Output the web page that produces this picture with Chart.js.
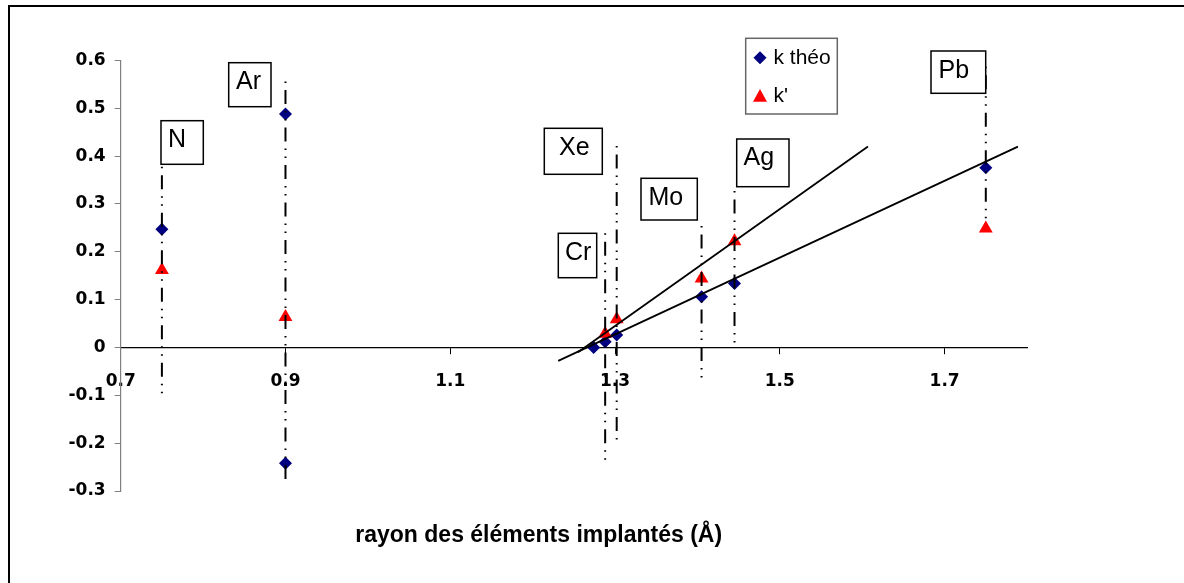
<!DOCTYPE html>
<html><head><meta charset="utf-8">
<script src="https://cdn.jsdelivr.net/npm/chart.js@4/dist/chart.umd.min.js"></script>
<style>html,body{margin:0;padding:0;background:#fff}#wrap{width:1184px;height:583px;position:relative}</style>
</head><body><div id="wrap"><canvas id="c"></canvas></div>
<script>
// ---- data ----
const xTicks = [0.7, 0.9, 1.1, 1.3, 1.5, 1.7];
const yTicks = [-0.3, -0.2, -0.1, 0, 0.1, 0.2, 0.3, 0.4, 0.5, 0.6];
const seriesNames = ['k théo', "k'"];
const kTheoX = [0.75, 0.9, 0.9, 1.274, 1.288, 1.302, 1.405, 1.445, 1.75];
const kTheoY = [0.247, 0.488, -0.242, 0.0, 0.012, 0.026, 0.106, 0.134, 0.376];
const kPrimeX = [0.75, 0.9, 1.288, 1.302, 1.405, 1.445, 1.75];
const kPrimeY = [0.162, 0.064, 0.029, 0.059, 0.144, 0.222, 0.249];
const trendTheoX = [1.231, 1.789];
const trendTheoY = [-0.028, 0.420];
const trendPrimeX = [1.255, 1.607];
const trendPrimeY = [-0.010, 0.420];
const elements = ['N', 'Ar', 'Cr', 'Xe', 'Mo', 'Ag', 'Pb'];
const dropX = [0.75, 0.9, 1.288, 1.302, 1.405, 1.445, 1.75];
const dropTop = [0.378, 0.556, 0.239, 0.421, 0.254, 0.327, 0.587];
const dropBottom = [-0.101, -0.282, -0.242, -0.197, -0.064, 0.0, 0.267];
const axisTitle = 'rayon des éléments implantés (Å)';

// ---- layout of text boxes (pixels): box x0,y0,x1,y1, text left, baseline ----
const labelBoxes = {
  N:  [161, 120.7, 203.3, 164.3, 168, 146.5],
  Ar: [228.7, 62.7, 271, 106.7, 236, 89.3],
  Cr: [558.3, 233.3, 596.7, 277.7, 565, 260],
  Xe: [544.3, 128.3, 602.3, 174.3, 559, 155],
  Mo: [641, 178.3, 697.3, 220, 648.5, 205],
  Ag: [736.7, 139, 789, 186.7, 743.5, 165],
  Pb: [931, 51, 985.7, 93.3, 938.5, 78.3]
};

const pts = (xs, ys) => xs.map((x, i) => ({x, y: ys[i]}));

const datasets = [];
elements.forEach((el, i) => {
  datasets.push({
    label: 'drop ' + el, type: 'scatter', showLine: true,
    data: [{x: dropX[i], y: dropTop[i]}, {x: dropX[i], y: dropBottom[i]}],
    borderColor: '#000', borderWidth: 2, borderDash: [14, 7, 1.5, 6.5, 1.5, 7], borderDashOffset: 29,
    borderCapStyle: 'butt', pointRadius: 0, order: 0, clip: false
  });
});
datasets.push({label: 'trend théo', showLine: true, data: pts(trendTheoX, trendTheoY),
  borderColor: '#000', borderWidth: 1.8, pointRadius: 0, order: 1});
datasets.push({label: 'trend prime', showLine: true, data: pts(trendPrimeX, trendPrimeY),
  borderColor: '#000', borderWidth: 1.8, pointRadius: 0, order: 1});
datasets.push({label: seriesNames[1], data: pts(kPrimeX, kPrimeY), pointStyle: 'triangle',
  pointRadius: 8, backgroundColor: '#ff0000', borderColor: '#ff0000', borderWidth: 0, order: 2});
datasets.push({label: seriesNames[0], data: pts(kTheoX, kTheoY), pointStyle: 'rectRot',
  pointRadius: 6.5, backgroundColor: '#000080', borderColor: '#000080', borderWidth: 0, order: 3});

const decor = {
  id: 'decor',
  beforeDraw(chart) {
    const ctx = chart.ctx;
    ctx.save(); ctx.fillStyle = '#fff'; ctx.fillRect(0, 0, chart.width, chart.height); ctx.restore();
  },
  afterDatasetsDraw(chart) {
    const ctx = chart.ctx;
    ctx.save();
    // element label boxes
    ctx.font = '25px "Liberation Sans", Arial, sans-serif';
    ctx.textAlign = 'left'; ctx.textBaseline = 'alphabetic';
    elements.forEach(el => {
      const b = labelBoxes[el];
      ctx.fillStyle = '#fff';
      ctx.fillRect(b[0], b[1], b[2] - b[0], b[3] - b[1]);
      ctx.strokeStyle = '#000'; ctx.lineWidth = 1.5;
      ctx.strokeRect(b[0], b[1], b[2] - b[0], b[3] - b[1]);
      ctx.fillStyle = '#000';
      ctx.fillText(el, b[4], b[5]);
    });
    // legend
    ctx.fillStyle = '#fff';
    ctx.fillRect(745.7, 38.3, 91.6, 75.7);
    ctx.strokeStyle = '#666'; ctx.lineWidth = 1.5;
    ctx.strokeRect(745.7, 38.3, 91.6, 75.7);
    ctx.fillStyle = '#000080';
    ctx.beginPath(); ctx.moveTo(760, 51.2); ctx.lineTo(766.5, 57.7); ctx.lineTo(760, 64.2); ctx.lineTo(753.5, 57.7); ctx.closePath(); ctx.fill();
    ctx.fillStyle = '#ff0000';
    ctx.beginPath(); ctx.moveTo(760, 89); ctx.lineTo(767, 101.7); ctx.lineTo(753, 101.7); ctx.closePath(); ctx.fill();
    ctx.fillStyle = '#000';
    ctx.font = '21px "Liberation Sans", Arial, sans-serif';
    ctx.fillText(seriesNames[0], 773.5, 64.3);
    ctx.fillText(seriesNames[1], 773.5, 101.7);
    // axis title
    ctx.font = 'bold 23px "Liberation Sans", Arial, sans-serif';
    ctx.textAlign = 'center';
    ctx.fillText(axisTitle, 538.7, 541.5);
    // outer frame (left and top visible)
    ctx.strokeStyle = '#000'; ctx.lineWidth = 2;
    ctx.beginPath(); ctx.moveTo(9, 590); ctx.lineTo(9, 6); ctx.lineTo(1190, 6); ctx.stroke();
    ctx.restore();
  }
};

const tickFont = {family: '"DejaVu Sans", Verdana, sans-serif', size: 17, weight: 'bold'};

new Chart(document.getElementById('c'), {
  type: 'scatter',
  data: {datasets},
  options: {
    responsive: true, maintainAspectRatio: false, animation: false,
    layout: {padding: {left: 0, top: 60.5, right: 157, bottom: 92}},
    plugins: {legend: {display: false}, tooltip: {enabled: false}, title: {display: false}},
    scales: {
      x: {
        type: 'linear', min: 0.7, max: 1.8, position: {y: 0},
        afterBuildTicks: s => { s.ticks = xTicks.map(v => ({value: v})); },
        ticks: {font: tickFont, color: '#000', padding: 18, maxRotation: 0, autoSkip: false,
          callback: v => String(v)},
        grid: {drawOnChartArea: false, drawTicks: true, tickLength: 6, color: '#000', lineWidth: 1},
        border: {display: true, color: '#000', width: 1.2}
      },
      y: {
        type: 'linear', min: -0.3, max: 0.6, position: 'left',
        afterBuildTicks: s => { s.ticks = yTicks.map(v => ({value: v})); },
        afterFit: s => { s.width = 120.7; },
        ticks: {font: tickFont, color: '#000', padding: 9, autoSkip: false,
          callback: v => String(v)},
        grid: {drawOnChartArea: false, drawTicks: true, tickLength: 6, color: '#808080', lineWidth: 1},
        border: {display: true, color: '#808080', width: 1.2}
      }
    }
  },
  plugins: [decor]
});
</script></body></html>
